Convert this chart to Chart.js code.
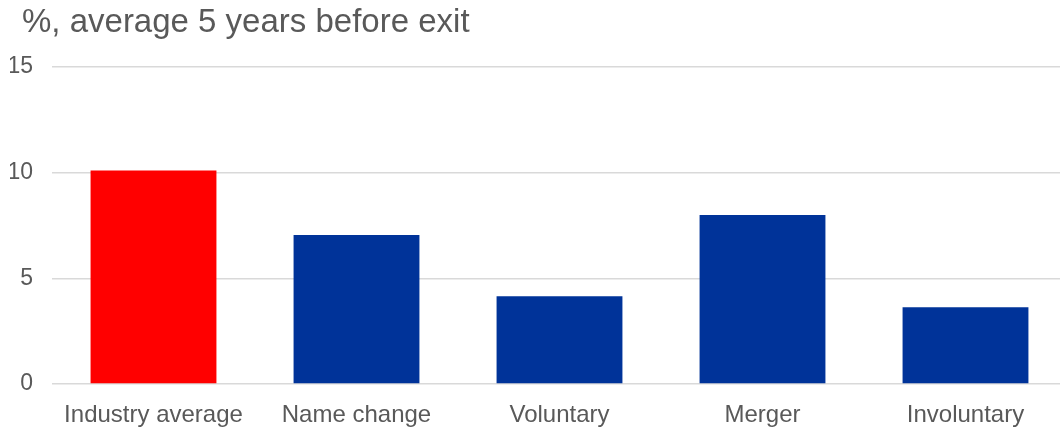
<!DOCTYPE html>
<html>
<head>
<meta charset="utf-8">
<script src="https://cdn.jsdelivr.net/npm/chart.js@4/dist/chart.umd.min.js"></script>
<style>
  html, body { margin: 0; padding: 0; background: #fff; overflow: hidden; }
  #wrap { position: relative; width: 1067px; height: 432px; }
  #title {
    position: absolute; left: 22px; top: 4px;
    font-family: "Liberation Sans", Arial, sans-serif;
    font-size: 33px; line-height: 1; color: #595959; white-space: nowrap;
  }
</style>
</head>
<body>
<div id="wrap">
  <div id="title">%, average 5 years before exit</div>
  <canvas id="exitChart"></canvas>
</div>
<script>
// categories and values (% average, 5 years before exit)
const categories = ['Industry average', 'Name change', 'Voluntary', 'Merger', 'Involuntary'];
const values = [10.1, 7.05, 4.15, 8.0, 3.63];
const barColors = ['#ff0000', '#003399', '#003399', '#003399', '#003399'];
const yTicks = [0, 5, 10, 15];

const font = { family: '"Liberation Sans", Arial, sans-serif', size: 24 };

new Chart(document.getElementById('exitChart'), {
  type: 'bar',
  data: {
    labels: categories,
    datasets: [{
      data: values,
      backgroundColor: barColors,
      borderWidth: 0,
      barPercentage: 0.62,
      categoryPercentage: 1
    }]
  },
  options: {
    responsive: true,
    maintainAspectRatio: false,
    animation: false,
    layout: { padding: { top: 67, left: 10, right: 0, bottom: 0 } },
    scales: {
      x: {
        grid: { display: false },
        border: { display: false },
        ticks: { color: '#595959', font: font, padding: 9, maxRotation: 0 },
        afterFit: axis => { axis.height = 48; axis.paddingLeft = 0; axis.paddingRight = 0; }
      },
      y: {
        min: 0,
        max: 15,
        afterBuildTicks: axis => { axis.ticks = yTicks.map(v => ({ value: v })); },
        grid: { color: '#d9d9d9', lineWidth: 1.5, drawTicks: false },
        border: { display: false },
        ticks: { color: '#595959', font: { family: font.family, size: 23 }, padding: 19 },
        afterFit: axis => { axis.width = 42; axis.paddingTop = 0; axis.paddingBottom = 0; }
      }
    },
    plugins: {
      legend: { display: false },
      tooltip: { enabled: false }
    }
  }
});
</script>
</body>
</html>
